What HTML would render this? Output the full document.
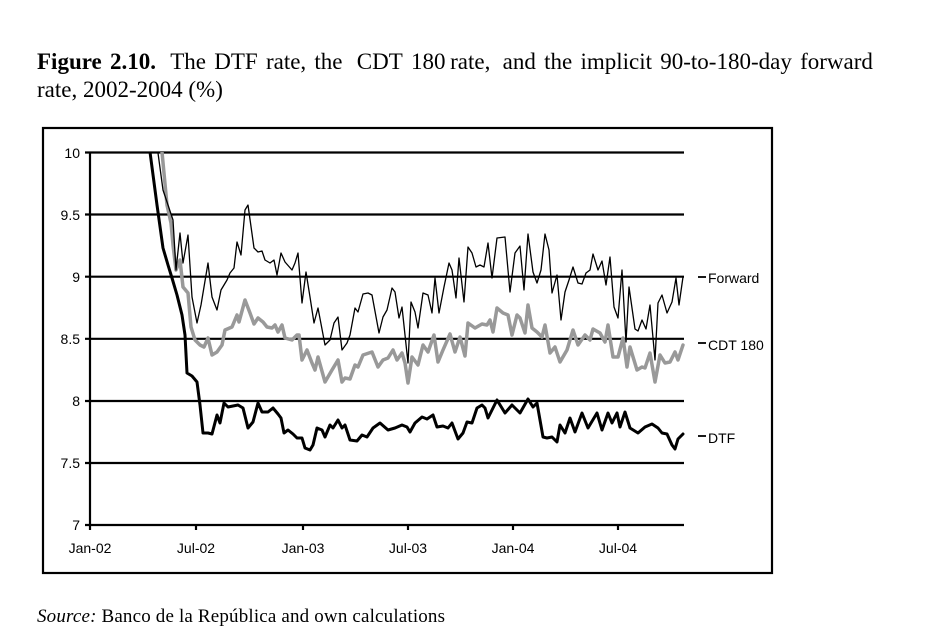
<!DOCTYPE html>
<html>
<head>
<meta charset="utf-8">
<style>
html,body{margin:0;padding:0;background:#fff;}
body{position:relative;width:925px;height:638px;overflow:hidden;}
svg{display:block;position:absolute;left:0;top:0;}
.t{position:absolute;left:37px;font-family:"Liberation Serif",serif;font-size:23px;line-height:28px;color:#000;white-space:nowrap;}
.l1{top:48px;width:836px;display:flex;justify-content:space-between;}
.l2{top:76px;}
</style>
</head>
<body>
<svg width="925" height="638" viewBox="0 0 925 638" xmlns="http://www.w3.org/2000/svg">
<rect x="0" y="0" width="925" height="638" fill="#fff"/>

<!-- Outer box -->
<rect x="43" y="128" width="729" height="445" fill="none" stroke="#000" stroke-width="2.2"/>

<!-- Gridlines -->
<g stroke="#000" stroke-width="2.2">
<line x1="85" y1="152.5" x2="684" y2="152.5"/>
<line x1="85" y1="214.5" x2="684" y2="214.5"/>
<line x1="85" y1="276.7" x2="684" y2="276.7"/>
<line x1="85" y1="338.8" x2="684" y2="338.8"/>
<line x1="85" y1="401" x2="684" y2="401"/>
<line x1="85" y1="463" x2="684" y2="463"/>
<line x1="85" y1="525" x2="684" y2="525"/>
<line x1="90" y1="152" x2="90" y2="526"/>
<line x1="90" y1="525" x2="90" y2="530"/>
<line x1="196" y1="525" x2="196" y2="530"/>
<line x1="303" y1="525" x2="303" y2="530"/>
<line x1="408" y1="525" x2="408" y2="530"/>
<line x1="513" y1="525" x2="513" y2="530"/>
<line x1="618" y1="525" x2="618" y2="530"/>
</g>

<!-- Y labels -->
<g font-family="'Liberation Sans', sans-serif" font-size="14" fill="#000" text-anchor="end">
<text x="80" y="158">10</text>
<text x="80" y="220">9.5</text>
<text x="80" y="282">9</text>
<text x="80" y="344">8.5</text>
<text x="80" y="406">8</text>
<text x="80" y="468">7.5</text>
<text x="80" y="530">7</text>
</g>
<!-- X labels -->
<g font-family="'Liberation Sans', sans-serif" font-size="14" fill="#000" text-anchor="middle">
<text x="90" y="553">Jan-02</text>
<text x="196" y="553">Jul-02</text>
<text x="303" y="553">Jan-03</text>
<text x="408" y="553">Jul-03</text>
<text x="513" y="553">Jan-04</text>
<text x="618" y="553">Jul-04</text>
</g>

<defs>
<clipPath id="pa"><rect x="88" y="152" width="598" height="373"/></clipPath>
</defs>
<g clip-path="url(#pa)" fill="none" stroke-linejoin="round" stroke-linecap="round">
<!-- DTF -->
<polyline stroke="#000" stroke-width="3" points="145,120 150,152 157,205 163,248 168,265 172,278 177,295 182,315 185,335 187,373 192,376 197,382 200,405 203,433 208,433 212,434 217,415 220,423 224,403 228,407 233,406 238,405 243,408 248,428 253,422 258,403 262,412 268,412 273,408 278,414 281,418 284,433 288,430 293,434 297,438 302,438 305,448 310,450 313,445 317,428 322,430 325,437 330,425 333,428 338,420 342,428 345,425 350,440 357,441 362,435 367,437 373,428 380,423 388,430 395,428 402,425 407,427 410,432 415,423 422,417 427,419 433,415 437,427 443,426 448,428 452,423 458,439 463,433 467,422 472,423 477,408 482,405 485,408 488,418 497,400 505,413 512,405 520,413 528,399 533,407 537,403 543,437 547,438 552,437 557,442 560,425 565,433 570,418 575,432 582,413 588,428 597,413 602,430 608,413 612,423 617,413 620,427 625,412 630,428 638,433 645,427 652,424 658,428 662,433 667,434 672,445 675,449 678,439 683,434"/>
<!-- CDT 180 -->
<polyline stroke="#999999" stroke-width="3.5" points="158,120 162,152 167,205 171,223 173,245 176,270 180,260 183,287 188,293 191,327 195,340 200,345 204,347 208,338 212,355 217,352 222,345 225,330 232,327 237,315 239,322 245,300 250,313 254,324 258,318 263,322 267,327 272,328 275,325 278,332 282,325 285,338 292,340 297,335 299,335 302,360 307,350 312,363 315,370 318,357 325,382 332,370 338,360 342,382 345,378 350,379 355,365 358,367 363,355 372,352 378,367 383,360 388,358 393,350 397,360 402,353 405,363 408,383 412,357 418,365 423,345 428,352 434,335 438,362 443,350 450,334 455,352 460,337 465,356 468,323 475,328 482,324 487,325 490,320 493,332 497,308 503,313 508,315 512,335 517,315 520,318 525,333 528,305 532,328 537,332 542,337 545,325 550,353 555,347 560,362 567,350 573,330 578,345 585,335 590,340 593,329 600,333 605,342 608,325 613,357 618,357 623,338 627,367 630,347 637,370 642,367 645,368 650,353 655,382 660,355 665,363 670,362 675,352 678,360 683,345"/>
<!-- Forward -->
<polyline stroke="#000" stroke-width="1.3" points="156,120 158,153 163,190 168,205 173,220 176,270 180,233 183,263 188,235 192,297 197,323 201,305 208,263 212,297 217,310 221,290 227,280 230,273 234,268 237,242 241,255 245,210 248,205 254,248 258,252 262,251 265,260 270,263 274,260 277,275 281,253 285,262 292,270 295,263 298,253 302,303 306,272 310,297 314,323 318,308 325,345 330,340 334,323 338,317 342,350 347,343 350,335 355,308 358,312 363,294 368,293 372,295 379,333 383,317 387,310 392,288 395,292 399,318 402,307 408,363 411,302 415,312 418,328 423,293 428,295 432,313 435,278 439,313 444,287 449,263 452,270 456,298 459,258 464,302 468,247 472,253 476,267 480,265 484,267 488,243 492,278 497,238 505,237 510,292 515,253 520,246 524,290 528,234 533,272 537,283 541,270 545,234 549,250 552,293 557,275 561,320 565,292 569,280 573,267 578,283 582,284 586,273 590,270 593,254 598,270 602,261 606,285 610,257 614,307 618,318 622,270 626,342 629,287 635,329 638,331 642,320 646,329 650,305 655,360 658,303 662,295 667,313 672,302 676,278 679,305 683,277"/>
</g>

<!-- Legend labels -->
<g stroke="#000" stroke-width="1.8">
<line x1="698" y1="277" x2="706" y2="277"/>
<line x1="698" y1="343" x2="706" y2="343"/>
<line x1="698" y1="436" x2="706" y2="436"/>
</g>
<g font-family="'Liberation Sans', sans-serif" font-size="14" fill="#000">
<text x="708" y="283">Forward</text>
<text x="708" y="350">CDT 180</text>
<text x="708" y="443">DTF</text>
</g>

<!-- Source -->
<text x="37" y="622" font-family="'Liberation Serif', serif" font-size="19" fill="#000" textLength="408" lengthAdjust="spacing"><tspan font-style="italic">Source:</tspan> Banco de la República and own calculations</text>
</svg>

<div class="t l1"><b>Figure</b><b>2.10.</b><span style="margin-left:6px">The</span><span>DTF</span><span>rate,</span><span>the</span><span style="margin-left:6px">CDT</span><span>180&#8201;rate,</span><span style="margin-left:4px">and</span><span>the</span><span>implicit</span><span>90-to-180-day</span><span>forward</span></div>
<div class="t l2">rate, 2002-2004 (%)</div>
</body>
</html>
